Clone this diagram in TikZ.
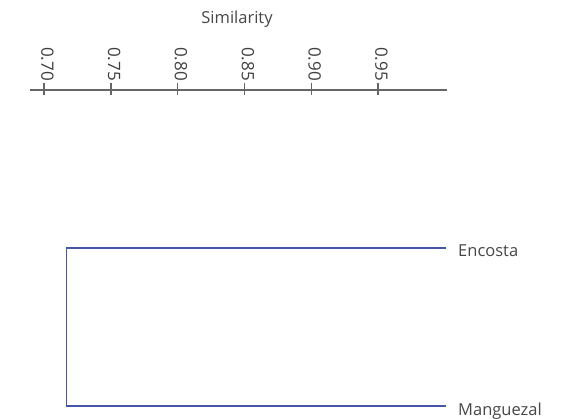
\documentclass[tikz,border=0pt]{standalone}
\usepackage{fontspec}
\setmainfont{Open Sans}
\begin{document}
\begin{tikzpicture}[x=1pt,y=-1pt,
  axisline/.style={draw=black!60, line width=1.9pt},
  tickmark/.style={draw=black!60, line width=1.6pt},
  ticklabel/.style={font=\fontsize{17}{18}\selectfont, text=black!75, rotate=-90, anchor=mid east, inner sep=0pt},
  axistitle/.style={font=\fontsize{16.5}{18}\selectfont, text=black!72, anchor=base, inner sep=0pt},
  leaflabel/.style={font=\fontsize{16.5}{18}\selectfont, text=black!72, anchor=base west, inner sep=0pt},
  branch/.style={draw={rgb,255:red,70;green,84;blue,170}, line width=1.9pt}]
  \useasboundingbox (0,0) rectangle (561,419);
  \fill[white] (0,0) rectangle (561,419);

  % similarity axis
  \coordinate (axL) at (30,90);
  \coordinate (axR) at (447,90);
  \draw[axisline] (axL) -- (axR);
  \node[axistitle] (title) at (237,24) {Similarity};
  \foreach \v/\x [count=\i] in {0.70/44,0.75/110.8,0.80/177.6,0.85/244.5,0.90/311.3,0.95/378.1}{
    \coordinate (t\i) at (\x,83);
    \coordinate (b\i) at (\x,95);
    \draw[tickmark] (t\i) -- (b\i);
    \node[ticklabel] (lab\i) at (\x,81) {\v};
  }

  % dendrogram
  \node[leaflabel] (enc) at (458,256.5) {Encosta};
  \node[leaflabel] (man) at (458,415.5) {Manguezal};
  \coordinate (j) at (66.5,247.6);
  \coordinate (k) at (66.5,405.6);
  \coordinate (e) at (446,247.6);
  \coordinate (m) at (446,405.6);
  \draw[branch] (e) -- (j) -- (k) -- (m);
\end{tikzpicture}
\end{document}
